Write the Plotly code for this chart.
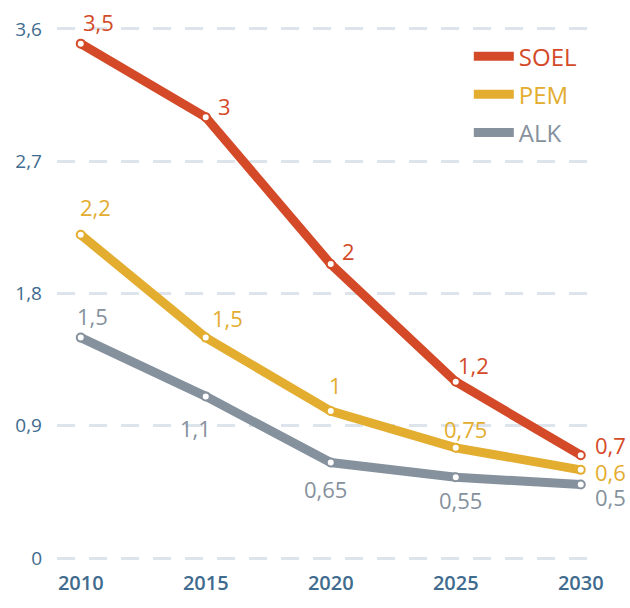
import plotly.graph_objects as go

years = [2010, 2015, 2020, 2025, 2030]
soel = [3.5, 3.0, 2.0, 1.2, 0.7]
pem = [2.2, 1.5, 1.0, 0.75, 0.6]
alk = [1.5, 1.1, 0.65, 0.55, 0.5]
soel_labels = ["3,5", "3", "2", "1,2", "0,7"]
pem_labels = ["2,2", "1,5", "1", "0,75", "0,6"]
alk_labels = ["1,5", "1,1", "0,65", "0,55", "0,5"]
y_ticks = [0, 0.9, 1.8, 2.7, 3.6]
y_ticktext = ["0", "0,9", "1,8", "2,7", "3,6"]

C_SOEL = "#d44a28"
C_PEM = "#e3ad2f"
C_ALK = "#85919d"
C_AXIS = "#3f6b8e"
FONT = "Open Sans"

series = [
    ("SOEL", soel, soel_labels, C_SOEL,
     [(18, 22), (19, 11), (18, 13), (18, 17), (30, 10)]),
    ("PEM", pem, pem_labels, C_PEM,
     [(15, 28), (22, 20), (5, 26), (10, 19), (30, -2)]),
    ("ALK", alk, alk_labels, C_ALK,
     [(12, 22), (-10, -32), (-5, -26), (5, -23), (30, -12)]),
]

fig = go.Figure()
annotations = []
for name, vals, labels, color, offs in series:
    fig.add_trace(go.Scatter(
        x=years, y=vals, mode="lines",
        name=f"<span style='color:{color}'>{name}</span>",
        legendgroup=name,
        line=dict(color=color, width=9),
        showlegend=True,
    ))
for name, vals, labels, color, offs in series:
    fig.add_trace(go.Scatter(
        x=years, y=vals, mode="markers", showlegend=False,
        marker=dict(color="white", size=8, line=dict(color=color, width=2)),
    ))
    for x, y, t, (dx, dy) in zip(years, vals, labels, offs):
        annotations.append(dict(
            x=x, y=y, text=t, showarrow=False, xshift=dx, yshift=dy,
            font=dict(family=FONT, size=22, color=color),
        ))

fig.update_layout(
    width=630, height=608,
    margin=dict(l=57, r=43, t=26, b=36),
    plot_bgcolor="white", paper_bgcolor="white",
    separators=",.",
    font=dict(family=FONT, color=C_AXIS),
    annotations=annotations,
    showlegend=True,
    legend=dict(
        x=0.777, y=0.985, xanchor="left", yanchor="top",
        font=dict(family=FONT, size=24, weight=500),
        bgcolor="rgba(0,0,0,0)", tracegroupgap=4,
        itemwidth=40,
    ),
    xaxis=dict(
        range=[2009.05, 2030.25], tickvals=years,
        showgrid=False, zeroline=False, showline=False,
        tickfont=dict(family=FONT, size=20, color=C_AXIS, weight=600),
        ticklabelstandoff=8,
    ),
    yaxis=dict(
        range=[-0.02, 3.62], tickvals=y_ticks, ticktext=y_ticktext,
        showgrid=True, gridcolor="#dde4eb", gridwidth=2.5, griddash="18px,14px",
        zeroline=False, showline=False,
        tickfont=dict(family=FONT, size=19, color=C_AXIS),
        ticklabelstandoff=14,
    ),
)

fig.write_html(
    "out.html",
    config={"displayModeBar": False},
    post_script="document.body.style.margin='0';document.body.style.overflow='hidden';",
)
